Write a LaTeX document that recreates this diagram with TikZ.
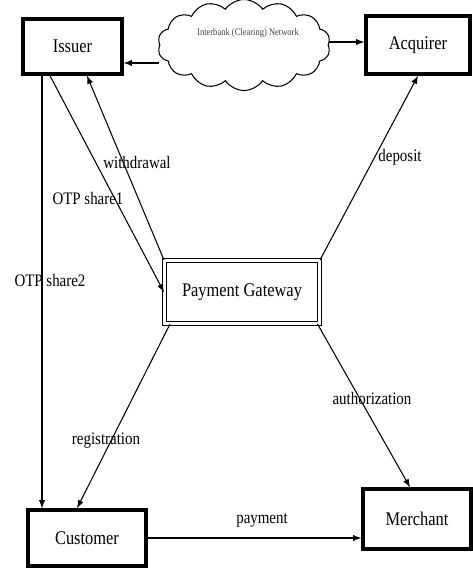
\documentclass[tikz,border=0pt]{standalone}
\usepackage{fontspec}
\setmainfont{Liberation Serif}[FakeStretch=0.85]
\usetikzlibrary{shapes.symbols}

\definecolor{netgray}{rgb}{0.25,0.25,0.25}

\begin{document}
\begin{tikzpicture}[>=latex,line width=0.6pt,
  party/.style={draw,line width=2pt,inner sep=0pt,font=\fontsize{11}{13}\selectfont},
  gate/.style={draw,double,double distance=2.2pt,inner sep=0pt,font=\fontsize{11}{13}\selectfont},
  lbl/.style={font=\fontsize{10}{12}\selectfont,inner sep=1pt}]
\useasboundingbox (0,0) rectangle (9.46,11.36);

\node[party,minimum width=1.98cm,minimum height=1.1cm] (iss) at (1.45,10.43) {Issuer};
\node[party,minimum width=2.08cm,minimum height=1.16cm] (acq) at (8.36,10.46) {Acquirer};
\node[gate,minimum width=3.1cm,minimum height=1.26cm] (pg) at (4.84,5.52) {Payment Gateway};
\node[party,minimum width=2.36cm,minimum height=1.12cm] (cus) at (1.74,0.6) {Customer};
\node[party,minimum width=2.16cm,minimum height=1.2cm] (mer) at (8.34,0.98) {Merchant};

\node[cloud,draw,cloud puffs=14,cloud puff arc=110,aspect=1.9,
  minimum width=3.45cm,minimum height=1.82cm] (net) at (4.88,10.46) {};
\node[font=\fontsize{5.7}{7}\selectfont,text=netgray] (nettext) at (4.96,10.7)
  {Interbank (Clearing) Network};

% network links
\draw[->] ([yshift=-0.36cm]net.west) -- ([yshift=-0.36cm]net.west -| iss.east);
\draw[->] ([yshift=0.06cm]net.east) -- ([yshift=0.06cm]net.east -| acq.west);

% issuer side
\draw[->] ([xshift=-0.61cm]iss.south) -- ([xshift=-0.61cm]iss.south |- cus.north);
\draw[->] ([xshift=-0.45cm]iss.south) -- (pg.west);
\draw[->] (pg.north west) -- ([xshift=0.29cm]iss.south);
\draw[->] (pg.north east) -- (acq.south);
\draw[->] ([xshift=-0.05cm]pg.south east) -- ([xshift=-0.14cm]mer.north);
\draw[->] ([xshift=0.12cm]pg.south west) -- ([xshift=-0.2cm]cus.north);
\draw[->] (cus.east) -- (cus.east -| mer.west);

\node[lbl] (wd) at (2.74,8.12) {withdrawal};
\node[lbl] (otp1) at (1.76,7.4) {OTP share1};
\node[lbl] (otp2) at (1.0,5.76) {OTP share2};
\node[lbl] (dep) at (8.0,8.22) {deposit};
\node[lbl] (auth) at (7.44,3.4) {authorization};
\node[lbl] (reg) at (2.12,2.54) {registration};
\node[lbl] (pay) at (5.24,0.96) {payment};

\end{tikzpicture}
\end{document}
